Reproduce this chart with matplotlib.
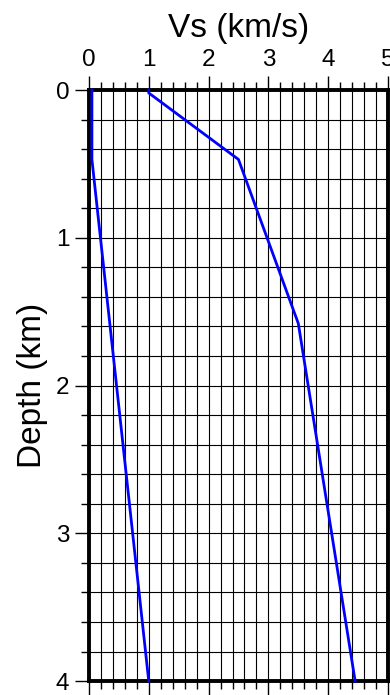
import matplotlib.pyplot as plt
from matplotlib.ticker import MultipleLocator

plt.rcParams['font.family'] = ['Liberation Sans', 'DejaVu Sans']

# velocity profiles (Vs in km/s, depth in km)
vs_a = [0.05, 0.05, 1.0]
depth_a = [0.0, 0.47, 4.0]
vs_b = [1.0, 1.0, 2.5, 3.5, 4.45]
depth_b = [0.0, 0.02, 0.47, 1.58, 4.0]

fig = plt.figure(figsize=(3.9, 6.95), dpi=100)
ax = fig.add_axes([0.228, 0.02, 0.767, 0.8505])

ax.plot(vs_a, depth_a, color='blue', lw=2, zorder=5, clip_on=False)
ax.plot(vs_b, depth_b, color='blue', lw=2, zorder=5, clip_on=False)

ax.set_xlim(0, 5)
ax.set_ylim(4, 0)
ax.xaxis.set_major_locator(MultipleLocator(1))
ax.xaxis.set_minor_locator(MultipleLocator(0.2))
ax.yaxis.set_major_locator(MultipleLocator(1))
ax.yaxis.set_minor_locator(MultipleLocator(0.2))

ax.grid(which='both', color='black', lw=0.8)
ax.set_axisbelow(True)

ax.tick_params(which='both', direction='out', top=True, bottom=True,
               labeltop=True, labelbottom=False, width=1, labelsize=17.5)
ax.tick_params(which='major', length=10, pad=4)
ax.tick_params(which='minor', length=6)

for s in ax.spines.values():
    s.set_linewidth(2.8)

ax.xaxis.set_label_position('top')
ax.set_xlabel('Vs (km/s)', fontsize=24, labelpad=8)
ax.set_ylabel('Depth (km)', fontsize=24, labelpad=6)

plt.savefig('out.png')
